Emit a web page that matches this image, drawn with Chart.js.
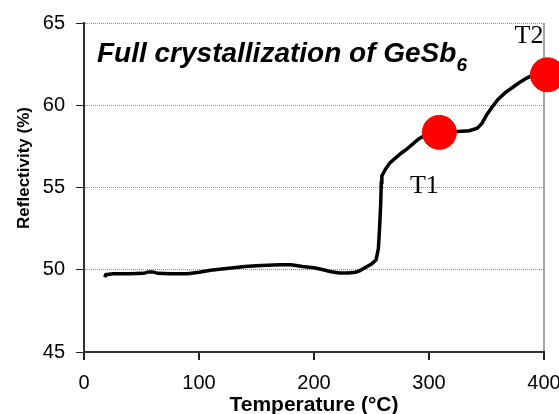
<!DOCTYPE html>
<html>
<head>
<meta charset="utf-8">
<script src="https://cdn.jsdelivr.net/npm/chart.js@4"></script>
<style>
  html,body{margin:0;padding:0;background:#fff;overflow:hidden;}
  canvas{display:block;}
</style>
</head>
<body>
<canvas id="chart" width="580" height="414"></canvas>
<script>
/* DATA */
const tempC = [18, 19, 25, 40, 52, 56, 60, 64, 75, 90, 100, 110, 120, 130, 140, 150, 160, 170, 180, 190,
  200, 208, 215, 222, 230, 236, 240, 245, 250, 254, 256, 257, 258, 258.5, 259, 262, 266, 271, 276, 281,
  286, 291, 296, 301, 309, 315, 325, 335, 342, 346, 350, 355, 360, 366, 372, 378, 385, 391, 396];
const reflectivity = [49.55, 49.7, 49.75, 49.75, 49.78, 49.87, 49.87, 49.78, 49.75, 49.76, 49.85, 49.97, 50.05, 50.12, 50.2, 50.25, 50.27, 50.3, 50.3, 50.2,
  50.12, 50.0, 49.88, 49.8, 49.8, 49.85, 49.95, 50.15, 50.35, 50.6, 51.3, 52.5, 54.0, 55.3, 55.7, 56.1, 56.5, 56.8, 57.1, 57.35,
  57.65, 57.95, 58.15, 58.25, 58.35, 58.4, 58.4, 58.45, 58.6, 58.9, 59.4, 59.9, 60.35, 60.75, 61.05, 61.35, 61.65, 61.85, 61.9];

const markerTemp = [309, 403];
const markerRefl = [58.35, 61.85];
const markerLabels = ["T1", "T2"];

const xTicks = [0, 100, 200, 300, 400];
const yTicks = [45, 50, 55, 60, 65];

const SANS = "Arial, 'Liberation Sans', sans-serif";
const SERIF = "'Times New Roman', 'Liberation Serif', serif";

/* TEXT OVERLAY */
const textPlugin = {
  id: "texts",
  afterDraw(chart){
    const ctx = chart.ctx;
    ctx.save();
    ctx.fillStyle = "#000";

    // title
    ctx.font = "italic bold 28px " + SANS;
    ctx.textAlign = "left";
    ctx.textBaseline = "alphabetic";
    const t = "Full crystallization of GeSb";
    ctx.fillText(t, 97, 62);
    const w = ctx.measureText(t).width;
    ctx.font = "italic bold 19px " + SANS;
    ctx.fillText("6", 97 + w, 71);

    // T1 / T2
    ctx.font = "26px " + SERIF;
    ctx.textAlign = "center";
    const x = chart.scales.x;
    ctx.fillText(markerLabels[0], x.getPixelForValue(markerTemp[0]) - 15, 193);
    ctx.fillText(markerLabels[1], 529, 43);

    // y title
    ctx.font = "bold 17px " + SANS;
    ctx.textBaseline = "middle";
    ctx.translate(24, 168);
    ctx.rotate(-Math.PI/2);
    ctx.fillText("Reflectivity (%)", 0, 0);
    ctx.restore();
  }
};

new Chart(document.getElementById("chart"), {
  type: "scatter",
  data: {
    datasets: [{
      label: "markers",
      data: markerTemp.map((t,i)=>({x:t, y:markerRefl[i]})),
      backgroundColor: "#ff0000",
      borderColor: "#ff0000",
      pointRadius: 17,
      clip: false
    },{
      label: "GeSb6",
      data: tempC.map((t,i)=>({x:t, y:reflectivity[i]})),
      showLine: true,
      borderColor: "#000",
      borderWidth: 3.5,
      pointRadius: 0,
      tension: 0
    }]
  },
  options: {
    responsive: false,
    animation: false,
    devicePixelRatio: 1,
    // canvas is wider than the window so "400" gets cut at the edge like the original
    layout: { padding: { top: 18, right: 36, left: 0, bottom: 0 } },
    plugins: {
      legend: { display: false },
      tooltip: { enabled: false }
    },
    scales: {
      x: {
        type: "linear",
        min: 0, max: 400,
        afterBuildTicks: s => { s.ticks = xTicks.map(v=>({value:v})); },
        afterFit: s => { s.height = 62; },
        ticks: { color: "#000", font: { family: SANS, size: 20 }, padding: 11, maxRotation: 0 },
        grid: {
          color: c => c.tick && c.tick.value === 400 ? "#a6a6a6" : "rgba(0,0,0,0)",
          lineWidth: 2,
          tickColor: "#222",
          tickLength: 8
        },
        border: { color: "#333", width: 2 },
        title: {
          display: true,
          text: "Temperature (°C)",
          color: "#000",
          font: { family: SANS, size: 21, weight: "bold", lineHeight: 0.8 },
          padding: 0
        }
      },
      y: {
        min: 45, max: 65,
        afterBuildTicks: s => { s.ticks = yTicks.map(v=>({value:v})); },
        afterFit: s => { s.width = 84; },
        ticks: { color: "#000", font: { family: SANS, size: 20 }, padding: 11 },
        grid: {
          color: c => c.tick && c.tick.value === 45 ? "rgba(0,0,0,0)" : "#8c8c8c",
          lineWidth: 1,
          tickColor: "#222",
          tickLength: 8
        },
        border: { color: "#333", width: 2, dash: [1, 1] }
      }
    }
  },
  plugins: [textPlugin]
});
</script>
</body>
</html>
